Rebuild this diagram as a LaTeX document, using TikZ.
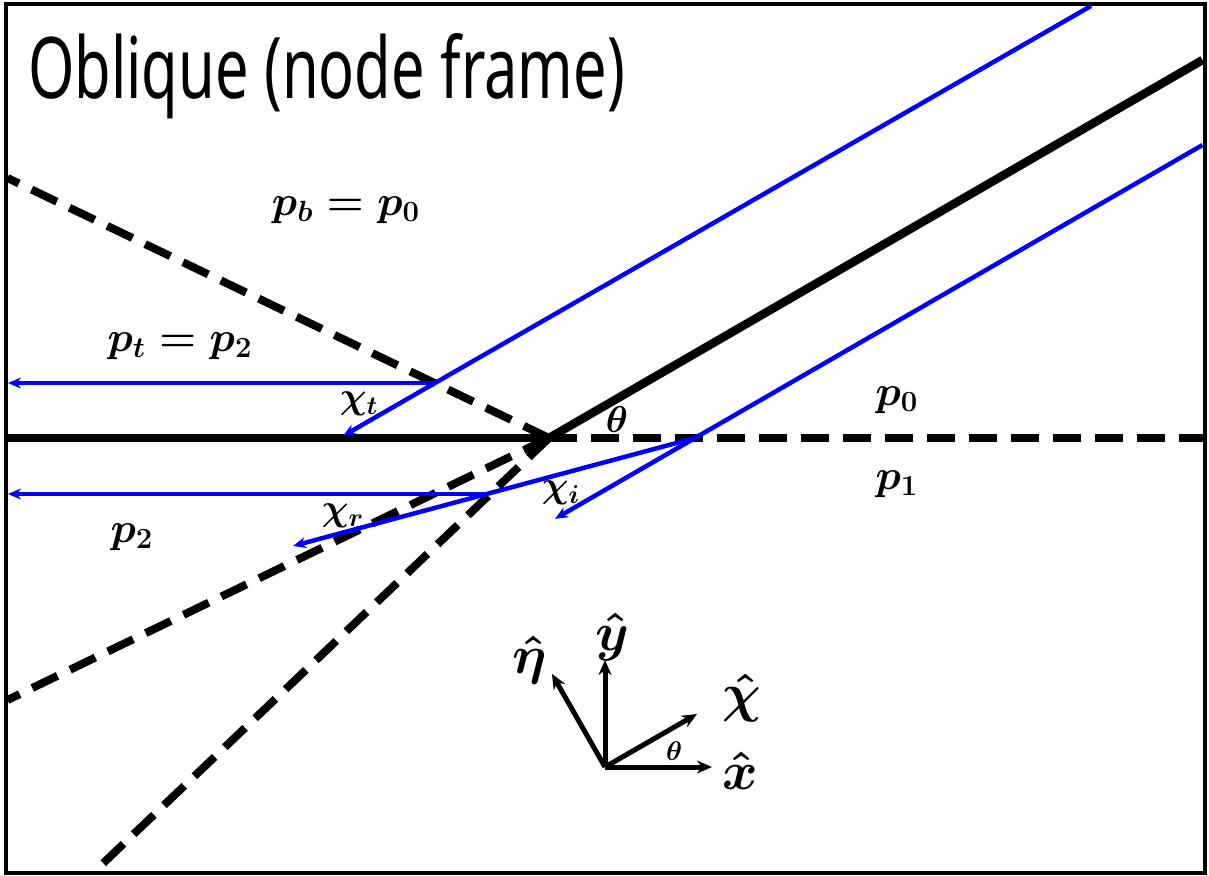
\documentclass[tikz,border=0pt]{standalone}
\usepackage{fontspec}
\usepackage{amsmath,bm,graphicx}
\usetikzlibrary{arrows.meta}
\newfontfamily\titlefont{Noto Sans}
\definecolor{rayblue}{RGB}{0,0,255}
\tikzset{
  frameline/.style={line width=4pt},
  solidwall/.style={line width=8.5pt},
  dashwall/.style={line width=8pt, dash pattern=on 28pt off 14pt},
  ray/.style={rayblue, line width=4.5pt},
  rayarrow/.style={ray, -{Stealth[length=13pt,width=11pt]}},
  axisarrow/.style={line width=5pt, -{Stealth[length=15pt,width=13pt]}},
  mlabel/.style={inner sep=0pt, font=\fontsize{20.74}{25}\selectfont\boldmath, scale=2.03, transform shape},
  glabel/.style={inner sep=0pt, font=\fontsize{20.74}{25}\selectfont\boldmath, scale=1.8, transform shape},
  alabel/.style={inner sep=0pt, font=\fontsize{20.74}{25}\selectfont\boldmath, scale=2.6, transform shape},
  slabel/.style={inner sep=0pt, font=\fontsize{20.74}{25}\selectfont\boldmath, scale=1.3, transform shape},
}
\begin{document}
\begin{tikzpicture}[x={(1pt,0pt)}, y={(0pt,-1pt)}]
\useasboundingbox (0,0) rectangle (1209,875);
% frame
\draw[frameline] (5.5,4) rectangle (1204.5,873);
% key points
\coordinate (O) at (549,438);
\coordinate (Lw) at (7.5,438);
\coordinate (Rw) at (1202.5,438);
\coordinate (Ob) at (1202.5,60);
\coordinate (Du) at (7.5,178);
\coordinate (Dl) at (7.5,700);
\coordinate (Ds) at (95,871);
% walls
\draw[solidwall] (Lw) -- (O);
\draw[solidwall] (O) -- (Ob);
\draw[dashwall] (O) -- (Rw);
\draw[dashwall] (O) -- (Du);
\draw[dashwall] (O) -- (Dl);
\draw[dashwall] (O) -- (Ds);
% transmitted ray
\coordinate (Tt) at (1091,6);
\coordinate (Tx) at (435,383);
\coordinate (Te) at (343,436);
\coordinate (Tl) at (8,383);
\draw[ray] (Tt) -- (Tx);
\draw[rayarrow] (Tx) -- (Te);
\draw[rayarrow] (Tx) -- (Tl);
% incident and reflected rays
\coordinate (It) at (1202.5,145);
\coordinate (Ix) at (695,438);
\coordinate (Ie) at (555,518.8);
\coordinate (Re) at (293,546);
\coordinate (Rx) at (487,494);
\coordinate (Rl) at (8,494);
\draw[ray] (It) -- (Ix);
\draw[rayarrow] (Ix) -- (Ie);
\draw[rayarrow] (Ix) -- (Re);
\draw[rayarrow] (Rx) -- (Rl);
% labels
\node[anchor=base west, inner sep=0pt] (title) at (28,98)
  {\scalebox{0.7}[1]{\titlefont\fontsize{85}{100}\selectfont Oblique (node frame)}};
\node[mlabel] (pb) at (346,210) {$p_b = p_0$};
\node[mlabel] (pt) at (180,346) {$p_t = p_2$};
\node[mlabel] (p0) at (897,400) {$p_0$};
\node[mlabel] (p1) at (897,484) {$p_1$};
\node[mlabel] (p2) at (132,537) {$p_2$};
\node[glabel] (chit) at (359,404) {$\chi_t$};
\node[glabel] (chir) at (343,516) {$\chi_r$};
\node[glabel] (chii) at (561,493) {$\chi_i$};
\node[glabel] (th) at (617,420) {$\theta$};
% axes
\coordinate (A) at (605,767);
\coordinate (Ax) at (712,767);
\coordinate (Ay) at (605,660);
\coordinate (Ac) at (697,714);
\coordinate (Ae) at (552,674);
\draw[axisarrow] (A) -- (Ax);
\draw[axisarrow] (A) -- (Ay);
\draw[axisarrow] (A) -- (Ac);
\draw[axisarrow] (A) -- (Ae);
\node[alabel] (xh) at (740,771) {$\hat{x}$};
\node[alabel] (yh) at (612,637) {$\hat{y}$};
\node[alabel] (ch) at (742,698) {$\hat{\chi}$};
\node[alabel] (eh) at (530,660) {$\hat{\eta}$};
\node[slabel] (ath) at (674,751) {$\theta$};
\end{tikzpicture}
\end{document}
